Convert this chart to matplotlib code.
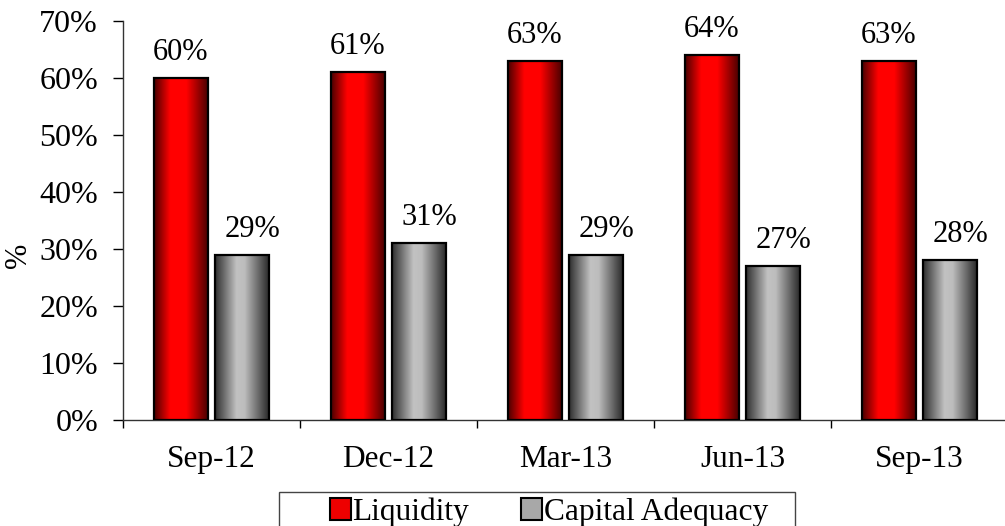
import numpy as np
import matplotlib
matplotlib.use("Agg")
import matplotlib.pyplot as plt
from matplotlib.colors import LinearSegmentedColormap
from matplotlib.patches import Patch, Rectangle

plt.rcParams['font.family'] = ['Liberation Serif', 'DejaVu Serif']

# data
periods = ['Sep-12', 'Dec-12', 'Mar-13', 'Jun-13', 'Sep-13']
liquidity = [60, 61, 63, 64, 63]
capital_adequacy = [29, 31, 29, 27, 28]
series_names = ['Liquidity', 'Capital Adequacy']

red_cmap = LinearSegmentedColormap.from_list(
    'red_grad', [(0.0, '#4a0000'), (0.3, '#ff0000'), (0.6, '#ff0000'), (1.0, '#4a0000')])
gray_cmap = LinearSegmentedColormap.from_list(
    'gray_grad', [(0.0, '#2e2e2e'), (0.4, '#c2c2c2'), (0.55, '#bdbdbd'), (1.0, '#2a2a2a')])

W, H = 1005, 526
fig = plt.figure(figsize=(W / 100, H / 100), dpi=100)
ax = fig.add_axes([0.1224, 0.2015, 0.8806, 0.7591])

x = np.arange(len(periods))
width = 0.305
offset = 0.175

bars_liq = ax.bar(x - offset, liquidity, width, color='#ff0000', edgecolor='black', linewidth=1.6, zorder=2)
bars_cap = ax.bar(x + offset, capital_adequacy, width, color='#bbbbbb', edgecolor='black', linewidth=1.6, zorder=2)

# horizontal gradient fill inside each bar
grad = np.linspace(0, 1, 256).reshape(1, -1)
for bars, cmap in [(bars_liq, red_cmap), (bars_cap, gray_cmap)]:
    for b in bars:
        x0, w, h = b.get_x(), b.get_width(), b.get_height()
        ax.imshow(grad, cmap=cmap, aspect='auto', extent=[x0, x0 + w, 0, h], zorder=2.5)
        b.set_facecolor('none')
        b.set_zorder(3)

# value labels
for b, v in zip(bars_liq, liquidity):
    ax.annotate(f'{v}%', (b.get_x() + b.get_width() / 2, v), xytext=(0, 13),
                textcoords='offset points', ha='center', va='baseline', fontsize=22)
for b, v in zip(bars_cap, capital_adequacy):
    ax.annotate(f'{v}%', (b.get_x() + b.get_width() / 2, v), xytext=(7, 13),
                textcoords='offset points', ha='center', va='baseline', fontsize=22)

ax.set_xlim(-0.5, len(periods) - 0.5)
ax.set_ylim(0, 70)
ax.set_yticks(range(0, 71, 10))
ax.set_yticklabels([f'{t}%' for t in range(0, 71, 10)])
ax.set_xticks(x)
ax.set_xticklabels(periods)
ax.set_xticks(np.arange(-0.5, len(periods), 1.0), minor=True)

ax.tick_params(axis='y', direction='out', length=7, width=1, pad=11, labelsize=23)
ax.tick_params(axis='x', which='major', length=0, pad=18, labelsize=22.5)
ax.tick_params(axis='x', which='minor', direction='out', length=6, width=1)

for s in ['top', 'right']:
    ax.spines[s].set_visible(False)
for s in ['left', 'bottom']:
    ax.spines[s].set_linewidth(1)
    ax.spines[s].set_color('#333333')

ax.set_ylabel('%', fontsize=22)
ax.yaxis.set_label_coords(-0.102, 0.413)

# legend: frame drawn separately, it runs off the bottom edge like the original
fig.patches.append(Rectangle((279 / W, -0.05), (795 - 279) / W, 0.05 + 1 - 492 / H,
                             transform=fig.transFigure, fill=False,
                             edgecolor='#444444', linewidth=1))
handles = [Patch(facecolor='#ee0000', edgecolor='black', linewidth=1.5),
           Patch(facecolor='#a8a8a8', edgecolor='black', linewidth=1.5)]
leg = fig.legend(handles, series_names, loc='lower left',
                 bbox_to_anchor=(330 / W, 1 - 527 / H),
                 ncol=2, fontsize=22.6, frameon=False, handlelength=0.66,
                 handleheight=0.66, handletextpad=0.06, columnspacing=1.66,
                 borderpad=0, borderaxespad=0)

fig.savefig('out.png', dpi=100)
